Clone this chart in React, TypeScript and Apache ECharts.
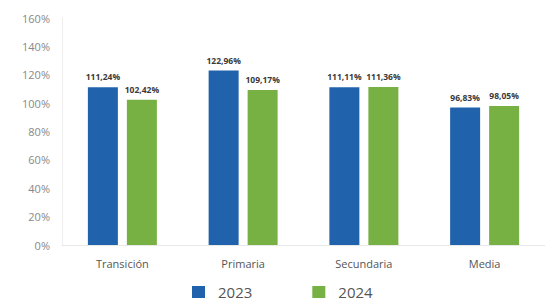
import React, { useEffect, useRef } from "react";
import * as echarts from "echarts";

const categories = ["Transición", "Primaria", "Secundaria", "Media"];
const values2023 = [111.24, 122.96, 111.11, 96.83];
const values2024 = [102.42, 109.17, 111.36, 98.05];
const seriesNames = ["2023", "2024"];

const fmt = (v: number) => v.toFixed(2).replace(".", ",") + "%";

export default function App() {
  const ref = useRef<HTMLDivElement>(null);
  useEffect(() => {
    if (!ref.current) return;
    const chart = echarts.init(ref.current, null, { renderer: "svg" });
    const font = "'Open Sans', sans-serif";
    const label = {
      show: true,
      position: "top" as const,
      distance: 6,
      fontSize: 8.5,
      fontWeight: "bold" as const,
      color: "#3a3a3a",
      fontFamily: font,
      formatter: (p: any) => fmt(p.value),
    };
    chart.setOption({
      animation: false,
      backgroundColor: "#fff",
      grid: { left: 62, right: -8, top: 18, bottom: 58, containLabel: false },
      legend: {
        data: seriesNames,
        left: 192,
        top: 284,
        padding: 0,
        itemWidth: 13,
        itemHeight: 12,
        itemGap: 60,
        icon: "rect",
        textStyle: {
          fontSize: 15,
          lineHeight: 16,
          color: "#555",
          fontFamily: font,
          rich: {
            t: { padding: [0, 0, 0, 8], fontSize: 15, lineHeight: 16, color: "#555", fontFamily: font },
          },
        },
        formatter: (name: string) => "{t|" + name + "}",
      },
      xAxis: {
        type: "category",
        data: categories,
        axisLine: { lineStyle: { color: "#e8e8e8" } },
        axisTick: { show: false },
        axisLabel: { fontSize: 11, color: "#555", margin: 13, fontFamily: font },
      },
      yAxis: {
        type: "value",
        min: 0,
        max: 160,
        interval: 20,
        axisLine: { show: true, lineStyle: { color: "#eeeeee" } },
        splitLine: { show: false },
        axisTick: { show: false },
        axisLabel: {
          fontSize: 11,
          color: "#888",
          fontFamily: font,
          margin: 12,
          formatter: (v: number) => v + "%",
        },
      },
      series: [
        {
          name: seriesNames[0],
          type: "bar",
          data: values2023,
          barWidth: 30,
          barGap: "30%",
          itemStyle: { color: "#2162ad" },
          label,
        },
        {
          name: seriesNames[1],
          type: "bar",
          data: values2024,
          barWidth: 30,
          itemStyle: { color: "#77b043" },
          label,
        },
      ],
    });
    return () => chart.dispose();
  }, []);
  return (
    <div
      ref={ref}
      style={{ position: "fixed", left: 0, top: 0, width: 545, height: 303 }}
    />
  );
}
